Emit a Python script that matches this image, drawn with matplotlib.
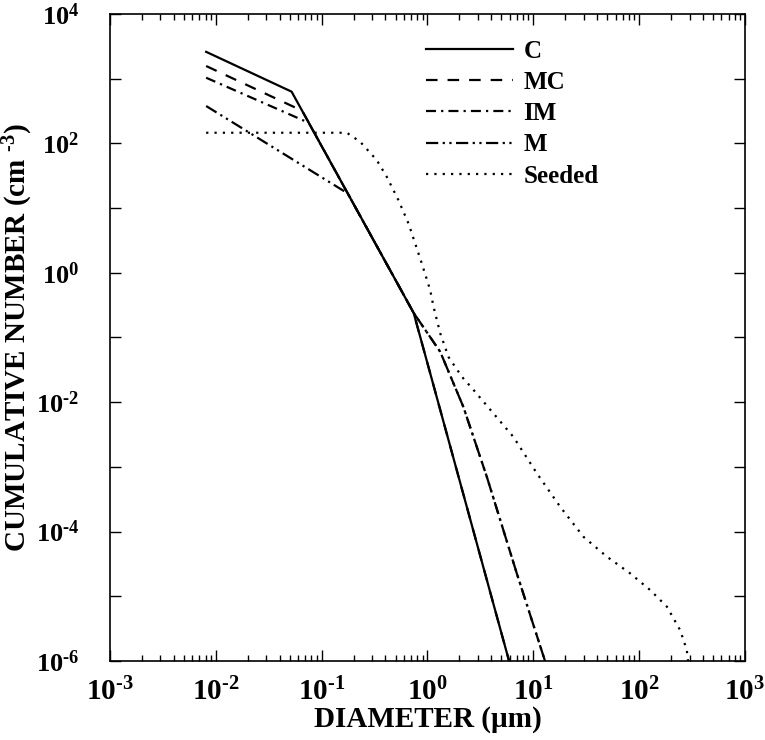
import numpy as np
import matplotlib.pyplot as plt
from matplotlib.ticker import FixedLocator, FuncFormatter, NullLocator

# ---------------------------------------------------------------------------
# data (diameter in um, cumulative number in cm^-3)
# ---------------------------------------------------------------------------
c_d = [0.0081, 0.052, 0.74, 5.9]
c_n = [2600, 630, 0.24, 1e-6]

mc_d = [0.0081, 0.0655, 0.74, 5.9]
mc_n = [1570, 319, 0.24, 1e-6]

# IM and M share the shallower large-particle tail
tail_d = [0.74, 1.32, 2.18, 3.63, 6.98, 12.9]
tail_n = [0.24, 0.060, 0.0085, 7.1e-4, 2.26e-5, 1e-6]

im_d = [0.0081, 0.0755] + tail_d
im_n = [1035, 208] + tail_n

m_d = [0.0081, 0.176] + tail_d
m_n = [378, 16.9] + tail_n

seed_d = [0.0081, 0.173, 0.231, 0.332, 0.412, 0.531, 0.661, 0.764, 0.883,
          1.06, 1.14, 1.32, 1.58, 2.11, 2.72, 4.20, 6.49, 10.8, 17.9, 29.8,
          49.5, 82.2, 127, 183, 244, 282, 290]
seed_n = [146, 146, 106, 55, 30.5, 13.3, 5.8, 2.86, 1.40,
          0.54, 0.30, 0.116, 0.050, 0.0248, 0.0155, 0.0067, 0.0029, 7.96e-4,
          2.43e-4, 8.3e-5, 4.1e-5, 2.26e-5, 1.25e-5, 6.9e-6, 3.0e-6, 1.48e-6, 1e-6]

x_exps = list(range(-3, 4))
y_exps = list(range(-6, 5))

plt.rcParams['font.family'] = 'Liberation Serif'
plt.rcParams['font.weight'] = 'bold'
plt.rcParams['mathtext.fontset'] = 'custom'
plt.rcParams['mathtext.rm'] = 'Liberation Serif:bold'
plt.rcParams['mathtext.it'] = 'Liberation Serif:bold'
plt.rcParams['mathtext.bf'] = 'Liberation Serif:bold'

fig = plt.figure(figsize=(7.65, 7.40), dpi=100)
ax = fig.add_axes([0.1438, 0.1068, 0.830, 0.8743])

lw = 1.6
ax.plot(c_d, c_n, color='black', lw=lw, ls='-', label='C')
ax.plot(mc_d, mc_n, color='black', lw=lw, ls=(0, (5.2, 4.5)), label='MC')
ax.plot(im_d, im_n, color='black', lw=lw, ls=(0, (4.5, 2.3, 1, 2.3)), label='IM')
ax.plot(m_d, m_n, color='black', lw=lw, ls=(0, (5.5, 2, 1, 2, 1, 2)), label='M')
ax.plot(seed_d, seed_n, color='black', lw=lw, ls=(0, (1, 2.75)), label='Seeded')

ax.set_xscale('log')
ax.set_yscale('log')
ax.set_xlim(1e-3, 1e3)
ax.set_ylim(1e-6, 1e4)

x_major = [10.0 ** e for e in x_exps]
x_minor = [k * 10.0 ** e for e in x_exps[:-1] for k in range(2, 10)]
ax.xaxis.set_major_locator(FixedLocator(x_major))
ax.xaxis.set_minor_locator(FixedLocator(x_minor))
ax.yaxis.set_major_locator(FixedLocator([10.0 ** e for e in y_exps]))
ax.yaxis.set_minor_locator(NullLocator())


def fmt_x(v, pos):
    e = round(np.log10(v))
    return r'$\mathrm{10^{\text{%d}}}$' % e


def fmt_y(v, pos):
    e = round(np.log10(v))
    if e % 2:
        return ''
    return r'$\mathrm{10^{\text{%d}}}$' % e


ax.xaxis.set_major_formatter(FuncFormatter(fmt_x))
ax.yaxis.set_major_formatter(FuncFormatter(fmt_y))

ax.tick_params(which='both', direction='in', top=True, right=True,
               width=1.0, colors='black')
ax.tick_params(axis='x', labelsize=21)
ax.tick_params(axis='y', labelsize=19)
ax.tick_params(which='major', length=8)
ax.tick_params(which='minor', length=4)
ax.tick_params(axis='x', which='major', pad=12)
ax.tick_params(axis='y', which='major', pad=22)
for s in ax.spines.values():
    s.set_linewidth(1.2)

ax.set_xlabel(u'DIAMETER (\u00b5m)', fontsize=21, fontweight='bold', labelpad=0)
ax.set_ylabel(r'CUMULATIVE NUMBER (cm $^{\mathrm{\text{-3}}}$)', fontsize=21,
              fontweight='bold')
ax.yaxis.set_label_coords(-0.118, 0.5)

ax.legend(loc='upper left', bbox_to_anchor=(0.462, 0.995), frameon=False,
          handlelength=3.5, handletextpad=0.4, labelspacing=0.33,
          prop={'weight': 'bold', 'size': 18})

fig.savefig('out.png', dpi=100)
